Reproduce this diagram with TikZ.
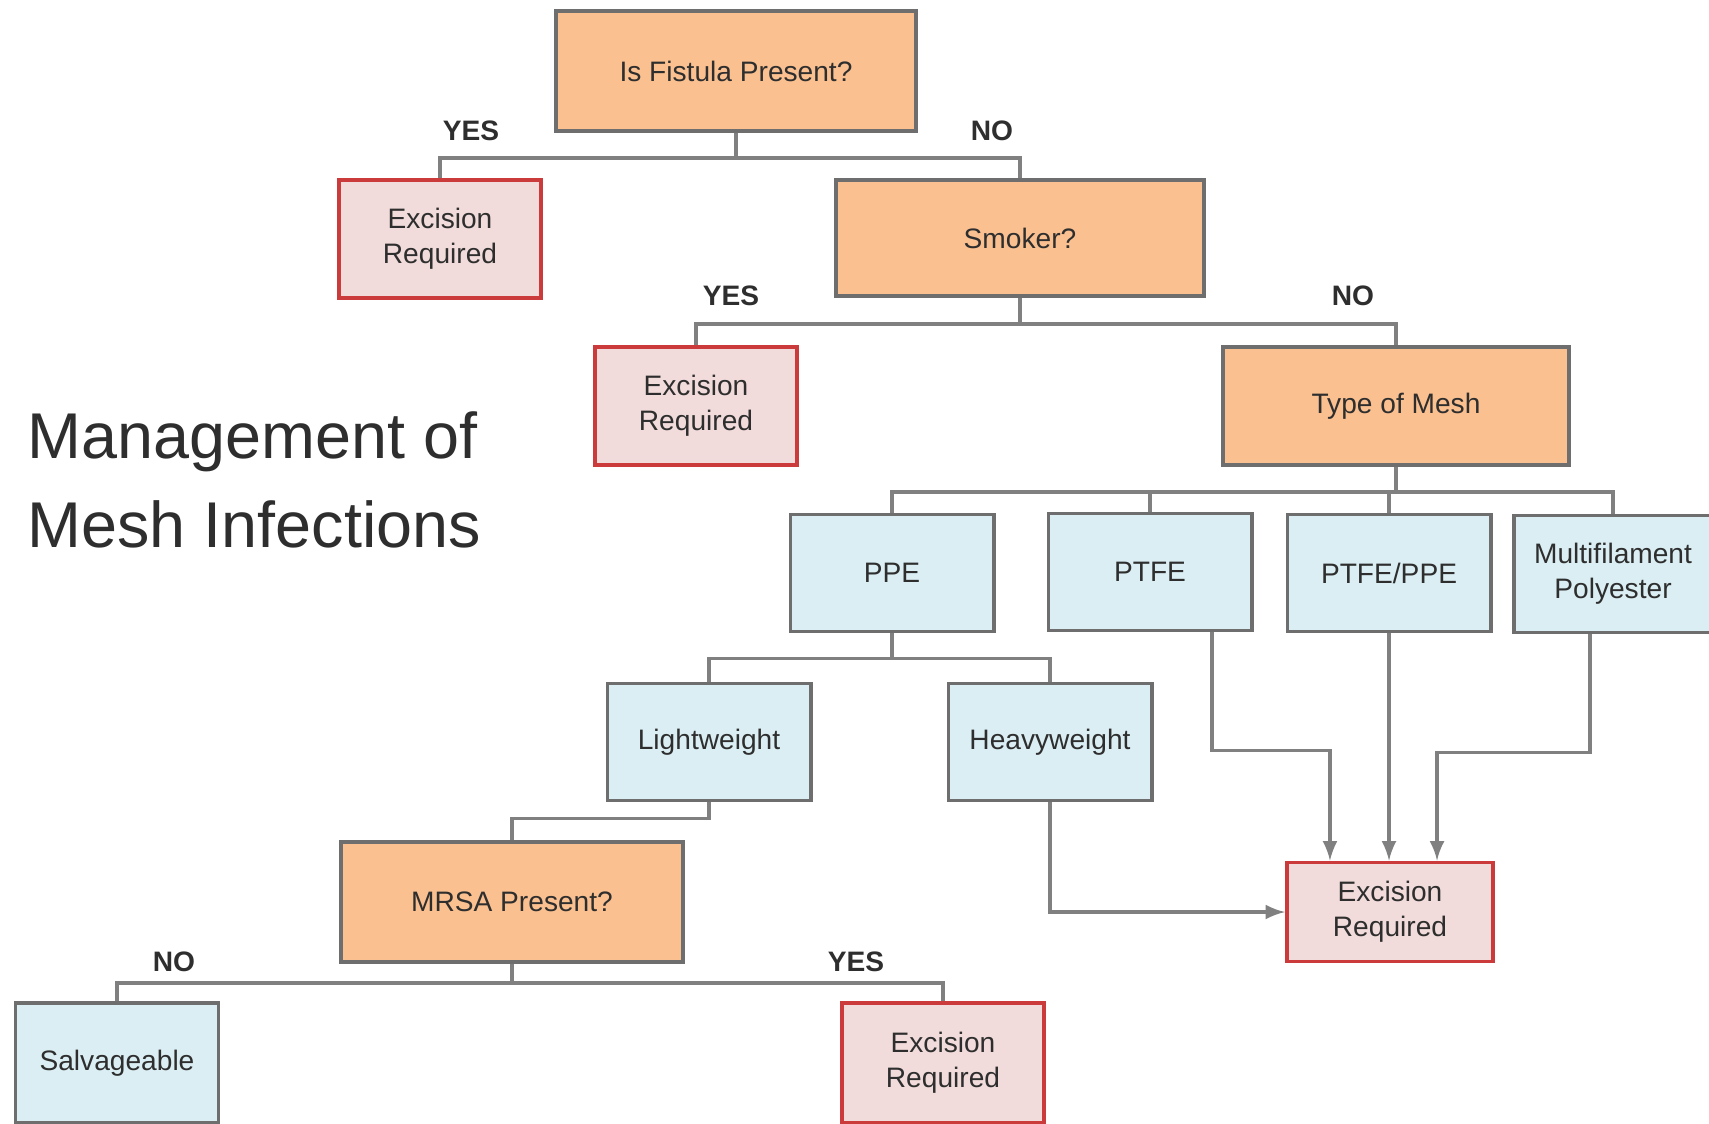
\documentclass[tikz,border=0pt]{standalone}
\usepackage{fontspec}
\setmainfont{Liberation Sans}
\definecolor{qorange}{HTML}{FAC090}
\definecolor{qpink}{HTML}{F2DCDB}
\definecolor{qblue}{HTML}{DAEEF3}
\definecolor{qline}{HTML}{808080}
\definecolor{qframe}{HTML}{6E6E6E}
\definecolor{qred}{HTML}{CC3B3B}
\definecolor{qtext}{HTML}{2E2E2E}

\begin{document}
\begin{tikzpicture}[x=0.01cm,y=-0.01cm,
	box/.style={draw=qframe,line width=1.1pt,text=qtext,align=center,inner sep=2pt,
		font=\fontsize{8}{10}\selectfont},
	question/.style={box,fill=qorange},
	excision/.style={box,fill=qpink,draw=qred,minimum width=2.02cm,minimum height=1.18cm},
	meshbox/.style={box,fill=qblue,minimum width=2.03cm,minimum height=1.17cm},
	yesno/.style={font=\fontsize{8}{10}\selectfont\bfseries,text=qtext},
	link/.style={draw=qline,line width=0.9pt},
	arrow/.style={link,->,>=latex}]
	% page size of the reference
	\useasboundingbox (0,0) rectangle (1709,1123);
	% title
	\node[anchor=west,align=left,inner sep=0pt,text=qtext,font=\fontsize{18.4}{25.5}\selectfont] (title) at (27,480) {Management of\\Mesh Infections};
	% the questions and answers
	\node[question,minimum width=3.6cm,minimum height=1.2cm] (fistula) at (736,71) {Is Fistula Present?};
	\node[excision] (excA) at (440,239) {Excision\\Required};
	\node[question,minimum width=3.67cm,minimum height=1.16cm] (smoker) at (1020,238) {Smoker?};
	\node[excision] (excB) at (696,406) {Excision\\Required};
	\node[question,minimum width=3.46cm,minimum height=1.18cm] (meshtype) at (1396,406) {Type of Mesh};
	\node[meshbox] (ppe) at (892,573) {PPE};
	\node[meshbox] (ptfe) at (1150,572) {PTFE};
	\node[meshbox] (ptfeppe) at (1389,573) {PTFE/PPE};
	\node[meshbox,minimum width=1.98cm] (multi) at (1613,574) {Multifilament\\Polyester};
	\node[meshbox] (light) at (709,742) {Lightweight};
	\node[meshbox] (heavy) at (1050,742) {Heavyweight};
	\node[question,minimum width=3.42cm,minimum height=1.2cm] (mrsa) at (512,902) {MRSA Present?};
	\node[meshbox,minimum height=1.2cm] (salv) at (117,1063) {Salvageable};
	\node[excision,minimum height=1.2cm] (excC) at (943,1063) {Excision\\Required};
	\node[excision,minimum width=2.06cm,minimum height=0.99cm] (excD) at (1390,912) {Excision\\Required};
	% YES / NO labels
	\node[yesno] (yesA) at (471,131) {YES};
	\node[yesno] (noA) at (992,131) {NO};
	\node[yesno] (yesB) at (731,296) {YES};
	\node[yesno] (noB) at (1353,296) {NO};
	\node[yesno] (noC) at (174,962) {NO};
	\node[yesno] (yesC) at (856,962) {YES};
	% tree lines
	\draw[link] (fistula.south) -- ++(0,25) -| (excA.north);
	\draw[link] (fistula.south) -- ++(0,25) -| (smoker.north);
	\draw[link] (smoker.south) -- ++(0,26) -| (excB.north);
	\draw[link] (smoker.south) -- ++(0,26) -| (meshtype.north);
	\foreach \m in {ppe,ptfe,ptfeppe,multi}
		\draw[link] (meshtype.south) -- ++(0,25) -| (\m.north);
	\foreach \w in {light,heavy}
		\draw[link] (ppe.south) -- ++(0,25) -| (\w.north);
	\draw[link] (light.south) -- ++(0,16) -| (mrsa.north);
	\draw[link] (mrsa.south) -- ++(0,19) -| (salv.north);
	\draw[link] (mrsa.south) -- ++(0,19) -| (excC.north);
	% arrows into the last excision box
	\draw[arrow] (heavy.south) |- (excD.west);
	\draw[arrow] ([xshift=0.62cm]ptfe.south) -- ++(0,118) -| ([xshift=-0.6cm]excD.north);
	\draw[arrow] (ptfeppe.south) -- (ptfeppe.south |- excD.north);
	\draw[arrow] ([xshift=-0.23cm]multi.south) -- ++(0,118) -| ([xshift=0.47cm]excD.north);
\end{tikzpicture}
\end{document}
